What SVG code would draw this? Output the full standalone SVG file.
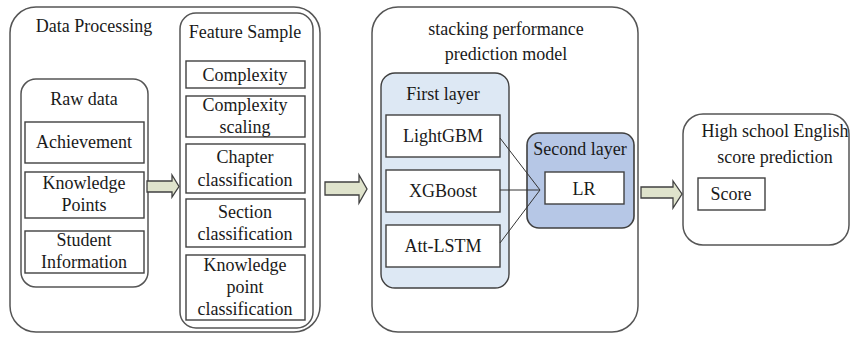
<svg xmlns="http://www.w3.org/2000/svg" width="856" height="340" viewBox="0 0 856 340">
<style>
text{font-family:"Liberation Serif","Times New Roman",serif;font-size:18px;fill:#1a1a1a;text-anchor:middle}
.grp{fill:#fff;stroke:#555;stroke-width:1.5}
.box{fill:#fff;stroke:#404040;stroke-width:1.4}
.l1{fill:#dde8f4;stroke:#404040;stroke-width:1.4}
.l2{fill:#b6c7e6;stroke:#404040;stroke-width:1.6}
.arr{fill:#dfe3cc;stroke:#404040;stroke-width:1.3}
.con{fill:none;stroke:#333;stroke-width:1}
</style>
<rect width="856" height="340" fill="#fff"/>
<g id="data-processing">
<rect class="grp" x="10" y="7" width="310" height="325" rx="26"/>
<text x="94" y="32">Data Processing</text>
</g>
<g id="raw-data">
<rect class="grp" x="21" y="79" width="127" height="208" rx="15"/>
<text x="84" y="105">Raw data</text>
</g>
<g id="achievement">
<rect class="box" x="25" y="122" width="119" height="41"/>
<text x="84" y="148">Achievement</text>
</g>
<g id="knowledge-points">
<rect class="box" x="25" y="172" width="119" height="46"/>
<text x="84" y="189">Knowledge</text>
<text x="84" y="211">Points</text>
</g>
<g id="student-information">
<rect class="box" x="25" y="231" width="119" height="42"/>
<text x="84" y="246">Student</text>
<text x="84" y="268">Information</text>
</g>
<g id="feature-sample">
<rect class="grp" x="180" y="13" width="133" height="315" rx="16"/>
<text x="245" y="38">Feature Sample</text>
</g>
<g id="complexity">
<rect class="box" x="186" y="61" width="119" height="27"/>
<text x="245" y="81">Complexity</text>
</g>
<g id="complexity-scaling">
<rect class="box" x="186" y="96" width="119" height="41"/>
<text x="245" y="111">Complexity</text>
<text x="245" y="133">scaling</text>
</g>
<g id="chapter-classification">
<rect class="box" x="186" y="144" width="119" height="49"/>
<text x="245" y="163">Chapter</text>
<text x="245" y="186">classification</text>
</g>
<g id="section-classification">
<rect class="box" x="186" y="199" width="119" height="48"/>
<text x="245" y="218">Section</text>
<text x="245" y="240">classification</text>
</g>
<g id="knowledge-point-classification">
<rect class="box" x="186" y="255" width="119" height="65"/>
<text x="245" y="271">Knowledge</text>
<text x="245" y="293">point</text>
<text x="245" y="315">classification</text>
</g>
<g id="stacking-model">
<rect class="grp" x="372" y="7" width="266" height="325" rx="26"/>
<text x="506" y="35">stacking performance</text>
<text x="506" y="60">prediction model</text>
</g>
<g id="first-layer">
<rect class="l1" x="381" y="73" width="128" height="215" rx="14"/>
<text x="443" y="100">First layer</text>
</g>
<g id="lightgbm">
<rect class="box" x="386" y="115" width="114" height="42"/>
<text x="443" y="142">LightGBM</text>
</g>
<g id="xgboost">
<rect class="box" x="386" y="170" width="114" height="42"/>
<text x="443" y="197">XGBoost</text>
</g>
<g id="att-lstm">
<rect class="box" x="386" y="225" width="114" height="42"/>
<text x="443" y="252">Att-LSTM</text>
</g>
<g id="second-layer">
<rect class="l2" x="527" y="133" width="107" height="95" rx="12"/>
<text x="580" y="155">Second layer</text>
</g>
<g id="lr">
<rect class="box" x="545" y="172" width="79" height="32"/>
<text x="584" y="195">LR</text>
</g>
<g id="score-prediction">
<rect class="grp" x="683" y="114" width="166" height="131" rx="20"/>
<text x="775" y="137">High school English</text>
<text x="775" y="163">score prediction</text>
</g>
<g id="score">
<rect class="box" x="698" y="178" width="67" height="32"/>
<text x="731" y="200">Score</text>
</g>
<g id="connectors">
<path class="arr" d="M147,181 H172 V175 L179,186.5 L172,197 V192 H147 Z"/>
<path class="arr" d="M325,182 H359 V175 L367,189 L359,203 V195 H325 Z"/>
<path class="arr" d="M641,187 H673 V181 L682,194 L673,208 V198 H641 Z"/>
<path class="con" d="M500,138 L540,190 M500,190 L540,190 M500,243 L540,190"/>
</g>
</svg>
